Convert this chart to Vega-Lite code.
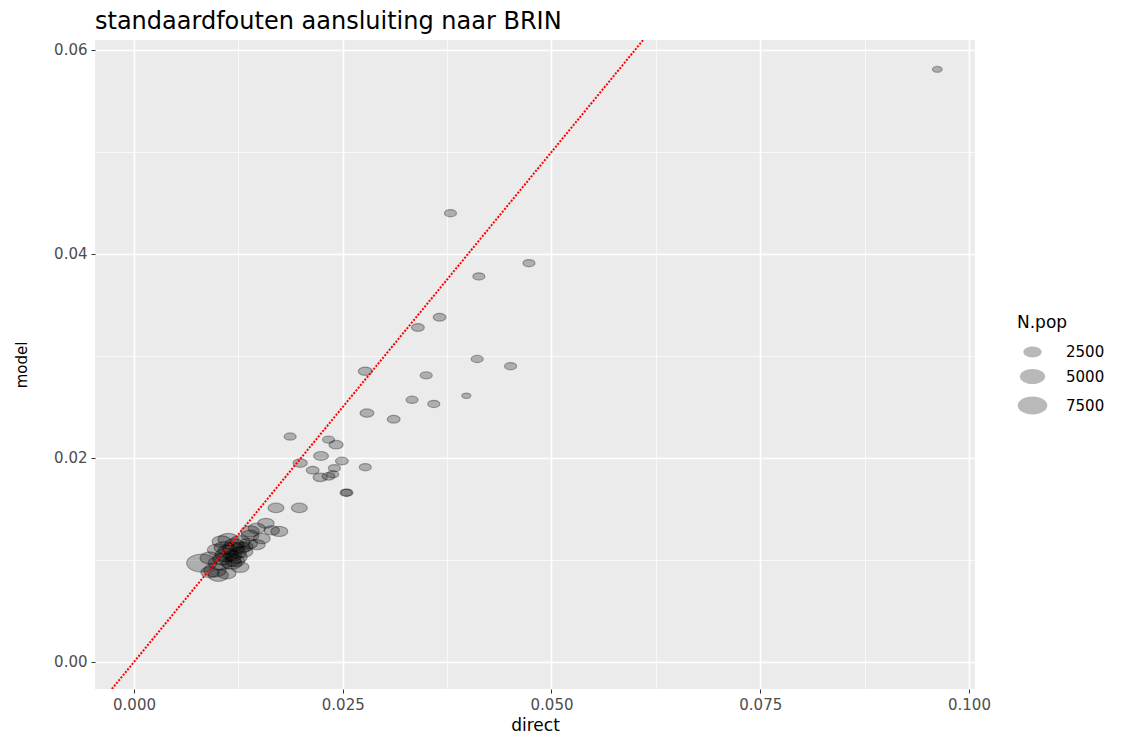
{
  "$schema": "https://vega.github.io/schema/vega-lite/v6.json",
  "width": 880,
  "height": 649,
  "autosize": {"type": "none"},
  "padding": {"left": 95, "top": 40, "right": 162, "bottom": 47},
  "background": "white",
  "title": {"text": "standaardfouten aansluiting naar BRIN", "anchor": "start", "frame": "group", "font": "DejaVu Sans", "fontSize": 24, "fontWeight": "normal", "color": "#000000", "baseline": "alphabetic", "offset": 11, "dy": 24},
  "config": {
    "view": {"fill": "#ebebeb", "stroke": null},
    "axis": {"domain": false, "gridColor": "#ffffff", "tickColor": "#333333", "tickSize": 4, "tickWidth": 1, "labelColor": "#4d4d4d", "labelFont": "DejaVu Sans", "labelFontSize": 15, "labelPadding": 4, "titleFont": "DejaVu Sans", "titleFontWeight": "normal", "titleColor": "#000000", "titleFontSize": 17}
  },
  "layer": [
    {
      "data": {"values": [
        {"direct": 0.0170, "model": 0.0151, "N.pop": 2000},
        {"direct": 0.0198, "model": 0.0151, "N.pop": 2000},
        {"direct": 0.0158, "model": 0.0136, "N.pop": 2100},
        {"direct": 0.0174, "model": 0.0128, "N.pop": 2200},
        {"direct": 0.0165, "model": 0.0129, "N.pop": 1900},
        {"direct": 0.0147, "model": 0.0131, "N.pop": 2300},
        {"direct": 0.0139, "model": 0.0128, "N.pop": 2600},
        {"direct": 0.0113, "model": 0.0120, "N.pop": 3200},
        {"direct": 0.0105, "model": 0.0118, "N.pop": 2800},
        {"direct": 0.0127, "model": 0.0118, "N.pop": 3000},
        {"direct": 0.0137, "model": 0.0116, "N.pop": 2500},
        {"direct": 0.0147, "model": 0.0115, "N.pop": 2200},
        {"direct": 0.0119, "model": 0.0111, "N.pop": 3500},
        {"direct": 0.0099, "model": 0.0110, "N.pop": 2600},
        {"direct": 0.0131, "model": 0.0108, "N.pop": 2700},
        {"direct": 0.0111, "model": 0.0105, "N.pop": 4000},
        {"direct": 0.0123, "model": 0.0103, "N.pop": 3300},
        {"direct": 0.0091, "model": 0.0102, "N.pop": 3000},
        {"direct": 0.0081, "model": 0.0097, "N.pop": 7800},
        {"direct": 0.0103, "model": 0.0097, "N.pop": 4200},
        {"direct": 0.0117, "model": 0.0097, "N.pop": 3100},
        {"direct": 0.0127, "model": 0.0093, "N.pop": 2400},
        {"direct": 0.0097, "model": 0.0090, "N.pop": 3800},
        {"direct": 0.0111, "model": 0.0087, "N.pop": 2600},
        {"direct": 0.0101, "model": 0.0085, "N.pop": 3000},
        {"direct": 0.0091, "model": 0.0088, "N.pop": 2500},
        {"direct": 0.0139, "model": 0.0124, "N.pop": 2400},
        {"direct": 0.0153, "model": 0.0121, "N.pop": 2200},
        {"direct": 0.0120, "model": 0.0115, "N.pop": 2900},
        {"direct": 0.0108, "model": 0.0112, "N.pop": 3100},
        {"direct": 0.0128, "model": 0.0112, "N.pop": 2600},
        {"direct": 0.0115, "model": 0.0100, "N.pop": 3600},
        {"direct": 0.0112, "model": 0.0109, "N.pop": 2700},
        {"direct": 0.0124, "model": 0.0107, "N.pop": 2300},
        {"direct": 0.0106, "model": 0.0101, "N.pop": 2900},
        {"direct": 0.0118, "model": 0.0104, "N.pop": 2500},
        {"direct": 0.0133, "model": 0.0113, "N.pop": 2100},
        {"direct": 0.0121, "model": 0.0099, "N.pop": 2800},
        {"direct": 0.0187, "model": 0.0221, "N.pop": 1400},
        {"direct": 0.0233, "model": 0.0218, "N.pop": 1400},
        {"direct": 0.0242, "model": 0.0213, "N.pop": 1700},
        {"direct": 0.0224, "model": 0.0202, "N.pop": 1800},
        {"direct": 0.0249, "model": 0.0197, "N.pop": 1500},
        {"direct": 0.0277, "model": 0.0191, "N.pop": 1400},
        {"direct": 0.0199, "model": 0.0195, "N.pop": 1700},
        {"direct": 0.0214, "model": 0.0188, "N.pop": 1500},
        {"direct": 0.0240, "model": 0.0190, "N.pop": 1400},
        {"direct": 0.0223, "model": 0.0181, "N.pop": 1700},
        {"direct": 0.0233, "model": 0.0182, "N.pop": 1500},
        {"direct": 0.0238, "model": 0.0184, "N.pop": 1400},
        {"direct": 0.0255, "model": 0.0166, "N.pop": 1400},
        {"direct": 0.0254, "model": 0.0166, "N.pop": 1400},
        {"direct": 0.0379, "model": 0.0440, "N.pop": 1400},
        {"direct": 0.0473, "model": 0.0391, "N.pop": 1400},
        {"direct": 0.0413, "model": 0.0378, "N.pop": 1400},
        {"direct": 0.0366, "model": 0.0338, "N.pop": 1500},
        {"direct": 0.0340, "model": 0.0328, "N.pop": 1500},
        {"direct": 0.0277, "model": 0.0285, "N.pop": 1650},
        {"direct": 0.0411, "model": 0.0297, "N.pop": 1400},
        {"direct": 0.0451, "model": 0.0290, "N.pop": 1400},
        {"direct": 0.0350, "model": 0.0281, "N.pop": 1400},
        {"direct": 0.0398, "model": 0.0261, "N.pop": 1100},
        {"direct": 0.0333, "model": 0.0257, "N.pop": 1400},
        {"direct": 0.0359, "model": 0.0253, "N.pop": 1400},
        {"direct": 0.0279, "model": 0.0244, "N.pop": 1650},
        {"direct": 0.0311, "model": 0.0238, "N.pop": 1500},
        {"direct": 0.0962, "model": 0.0581, "N.pop": 1150}
      ]},
      "mark": {"type": "point", "filled": true, "shape": "M -1 0 A 1 0.6 0 1 0 1 0 A 1 0.6 0 1 0 -1 0 Z", "fill": "#000000", "stroke": "#000000", "opacity": 1, "fillOpacity": 0.26, "strokeOpacity": 0.3, "strokeWidth": 1.2},
      "encoding": {
        "x": {"field": "direct", "type": "quantitative", "title": "direct",
          "scale": {"domain": [-0.00467, 0.10072], "nice": false, "zero": false},
          "axis": {"values": [0, 0.0125, 0.025, 0.0375, 0.05, 0.0625, 0.075, 0.0875, 0.1],
            "labelExpr": "abs(datum.value*40 - round(datum.value*40)) < 0.000001 ? format(datum.value, '.3f') : ''",
            "gridWidth": {"condition": {"test": "abs(datum.value*40 - round(datum.value*40)) < 0.000001", "value": 1.6}, "value": 0.7},
            "tickOpacity": {"condition": {"test": "abs(datum.value*40 - round(datum.value*40)) < 0.000001", "value": 1}, "value": 0},
            "titlePadding": 5}},
        "y": {"field": "model", "type": "quantitative", "title": "model",
          "scale": {"domain": [-0.00265, 0.06098], "nice": false, "zero": false},
          "axis": {"values": [0, 0.01, 0.02, 0.03, 0.04, 0.05, 0.06],
            "labelExpr": "abs(datum.value*50 - round(datum.value*50)) < 0.000001 ? format(datum.value, '.2f') : ''",
            "gridWidth": {"condition": {"test": "abs(datum.value*50 - round(datum.value*50)) < 0.000001", "value": 1.6}, "value": 0.7},
            "tickOpacity": {"condition": {"test": "abs(datum.value*50 - round(datum.value*50)) < 0.000001", "value": 1}, "value": 0},
            "titlePadding": 24, "titleFontSize": 15}},
        "size": {"field": "N\\.pop", "type": "quantitative",
          "scale": {"type": "sqrt", "domain": [1000, 9000], "range": [60, 1000], "zero": false},
          "legend": {"orient": "none", "legendX": 922, "legendY": 275, "title": "N.pop", "values": [2500, 5000, 7500], "format": "d",
            "titleFont": "DejaVu Sans", "titleFontSize": 17, "titleFontWeight": "normal", "titleColor": "#000000", "titlePadding": 10,
            "labelFont": "DejaVu Sans", "labelFontSize": 15, "labelColor": "#000000", "labelOffset": 18, "rowPadding": 3,
            "symbolType": "M -1 0 A 1 0.6 0 1 0 1 0 A 1 0.6 0 1 0 -1 0 Z", "symbolFillColor": "#000000", "symbolStrokeColor": "#000000", "symbolStrokeWidth": 1.2, "symbolOpacity": 0.27}}
      }
    },
    {
      "data": {"values": [{"direct": -0.00265, "model": -0.00265}, {"direct": 0.06098, "model": 0.06098}]},
      "mark": {"type": "line", "color": "#ff0000", "strokeDash": [2, 1.5], "strokeWidth": 2, "clip": true},
      "encoding": {
        "x": {"field": "direct", "type": "quantitative"},
        "y": {"field": "model", "type": "quantitative"}
      }
    }
  ]
}
